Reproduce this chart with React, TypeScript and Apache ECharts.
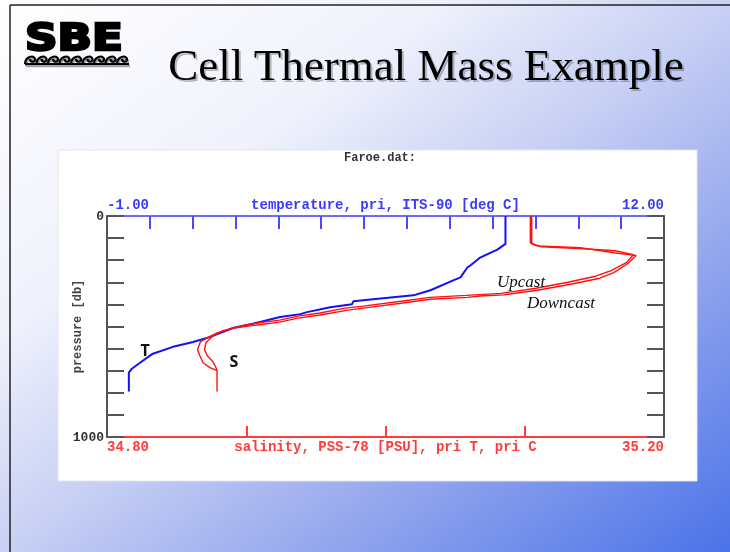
import React, { useEffect, useRef } from "react";
import * as echarts from "echarts";

// Temperature profile (deg C vs pressure db)
const tempT = [8.30, 8.30, 8.11, 7.71, 7.48, 7.41, 7.25, 7.08, 6.55, 6.15, 5.68, 5.21, 4.75, 4.72, 4.21, 3.67, 3.51, 3.04, 2.57, 1.94, 1.41, 1.01, 0.54, 0.07, -0.23, -0.42, -0.49, -0.49];
const tempP = [0, 126, 152, 188, 224, 233, 278, 291, 336, 359, 368, 377, 386, 399, 413, 435, 444, 457, 480, 507, 547, 570, 592, 623, 664, 691, 709, 794];

// Salinity downcast (PSU vs pressure db)
const sDownS = [35.104, 35.104, 35.109, 35.140, 35.164, 35.180, 35.174, 35.164, 35.153, 35.133, 35.109, 35.085, 35.068, 35.059, 35.032, 35.011, 34.984, 34.973, 34.953, 34.937, 34.924, 34.908, 34.891, 34.879, 34.872, 34.867, 34.865, 34.867, 34.869, 34.874, 34.879, 34.879];
const sDownP = [0, 121, 135, 143, 166, 179, 215, 256, 283, 309, 336, 357, 362, 368, 377, 395, 417, 426, 448, 462, 480, 493, 507, 529, 552, 570, 605, 637, 664, 686, 700, 794];

// Salinity upcast
const sUpS = [35.105, 35.105, 35.112, 35.142, 35.165, 35.178, 35.173, 35.162, 35.150, 35.131, 35.108, 35.083, 35.058, 35.032, 35.011, 34.984, 34.971, 34.953, 34.937, 34.924, 34.908, 34.896, 34.883, 34.876, 34.871, 34.870, 34.872, 34.876, 34.878, 34.879];
const sUpP = [0, 126, 139, 148, 157, 175, 211, 247, 274, 300, 327, 350, 359, 368, 386, 408, 417, 439, 453, 471, 484, 498, 520, 543, 574, 605, 632, 659, 682, 700];

const tempRange = [-1, 12];
const salRange = [34.8, 35.2];
const presRange = [0, 1000];

const zip = (xs: number[], ys: number[]) => xs.map((x, i) => [x, ys[i]]);

const mono = "'Liberation Mono', 'Courier New', monospace";

// wave line for the logo
let waveD = "M0 10 L104 10 ";
for (let i = 0; i < 9; i++) {
  const x = i * 11.5;
  waveD += `M${x} 10 C${x} 3 ${x + 9} 0 ${x + 10} 5 C${x + 10} 9 ${x + 5} 8 ${x + 5} 5 `;
}
echarts.graphic.registerShape("sbewave", echarts.graphic.extendPath(waveD, {}));

const txt = (text: string, x: number, y: number, family: string, size: number, weight: string, style: string, align: string, fill: string) => ({
  type: "text",
  z: 10,
  x,
  y,
  style: {
    text,
    fill,
    fontFamily: family,
    fontSize: size,
    fontWeight: weight,
    fontStyle: style,
    textAlign: align,
    textVerticalAlign: "middle",
    align,
    verticalAlign: "middle",
  },
});

export default function App() {
  const ref = useRef<HTMLDivElement>(null);
  useEffect(() => {
    if (!ref.current) return;
    const chart = echarts.init(ref.current, null, { renderer: "svg" });
    const near = (a: number, b: number) => Math.abs(a - b) < 1e-6;
    chart.setOption({
      animation: false,
      graphic: [
        {
          type: "rect",
          z: -20,
          shape: { x: 0, y: 0, width: 730, height: 552 },
          style: {
            fill: new echarts.graphic.LinearGradient(0, 0, 1, 1, [
              { offset: 0, color: "#ffffff" },
              { offset: 0.3, color: "#f0f2fc" },
              { offset: 0.5, color: "#c8d0f4" },
              { offset: 0.7, color: "#98aaee" },
              { offset: 1, color: "#4a72e8" },
            ]),
          },
        },
        { type: "line", z: -10, shape: { x1: 10, y1: 5, x2: 730, y2: 5 }, style: { stroke: "#222", lineWidth: 1.5 } },
        { type: "line", z: -10, shape: { x1: 10, y1: 5, x2: 10, y2: 552 }, style: { stroke: "#222", lineWidth: 1.5 } },
        {
          type: "rect",
          z: -15,
          shape: { x: 58, y: 150, width: 639, height: 331 },
          style: { fill: "#ffffff", stroke: "#e4e6ee", lineWidth: 1 },
        },
        {
          type: "text",
          z: 10,
          x: 25,
          y: 37,
          scaleX: 1.22,
          style: {
            text: "SBE",
            fill: "#000",
            stroke: "#000",
            lineWidth: 2.5,
            fontFamily: "'DejaVu Sans', 'Liberation Sans', sans-serif",
            fontWeight: 900,
            fontSize: 37,
            textAlign: "left",
            textVerticalAlign: "middle",
            align: "left",
            verticalAlign: "middle",
          },
        },
        {
          type: "sbewave",
          z: 10,
          x: 26,
          y: 56,
          style: { stroke: "rgba(0,0,0,0.35)", lineWidth: 2.5, fill: "none" },
        },
        {
          type: "sbewave",
          z: 11,
          x: 25,
          y: 54,
          style: { stroke: "#000", lineWidth: 2.2, fill: "none" },
        },
        {
          type: "text",
          z: 10,
          x: 426,
          y: 65,
          style: {
            text: "Cell Thermal Mass Example",
            fill: "#000",
            fontFamily: "'Liberation Serif', 'Times New Roman', serif",
            fontSize: 45,
            textAlign: "center",
            textVerticalAlign: "middle",
            align: "center",
            verticalAlign: "middle",
            textShadowColor: "rgba(0,0,0,0.25)",
            textShadowOffsetX: 2,
            textShadowOffsetY: 2,
            textShadowBlur: 1,
          },
        },
        txt("Faroe.dat:", 380, 158, mono, 12, "bold", "normal", "center", "#333"),
        txt("T", 145, 350, "'Open Sans', 'Liberation Sans', sans-serif", 16, "bold", "normal", "center", "#111"),
        txt("S", 234, 361, "'Open Sans', 'Liberation Sans', sans-serif", 16, "bold", "normal", "center", "#111"),
        txt("Upcast", 497, 281, "'Liberation Serif', serif", 17, "normal", "italic", "left", "#111"),
        txt("Downcast", 527, 302, "'Liberation Serif', serif", 17, "normal", "italic", "left", "#111"),
      ],
      grid: { left: 107, top: 216, right: 66, bottom: 115, containLabel: false },
      xAxis: [
        {
          type: "value",
          position: "top",
          min: tempRange[0],
          max: tempRange[1],
          interval: 1,
          z: 3,
          splitLine: { show: false },
          axisLine: { show: true, onZero: false, lineStyle: { color: "#6b6bff", width: 2 } },
          axisTick: { show: true, inside: true, length: 13, lineStyle: { color: "#4a4aff", width: 2 } },
          axisLabel: {
            show: true,
            showMinLabel: true,
            showMaxLabel: true,
            margin: 4,
            alignMinLabel: "left",
            alignMaxLabel: "right",
            color: "#3a3aff",
            fontFamily: mono,
            fontWeight: "bold",
            fontSize: 14,
            formatter: (v: number) => (near(v, tempRange[0]) || near(v, tempRange[1]) ? v.toFixed(2) : ""),
          },
          name: "temperature, pri, ITS-90 [deg C]",
          nameLocation: "middle",
          nameGap: 4,
          nameMoveOverlap: false,
          nameTextStyle: { color: "#3a3aff", fontFamily: mono, fontWeight: "bold", fontSize: 14 },
        },
        {
          type: "value",
          position: "bottom",
          min: salRange[0],
          max: salRange[1],
          interval: 0.1,
          z: 3,
          splitLine: { show: false },
          axisLine: { show: true, onZero: false, lineStyle: { color: "#ff3b3b", width: 2 } },
          axisTick: { show: true, inside: true, length: 11, lineStyle: { color: "#ff3b3b", width: 2 } },
          axisLabel: {
            show: true,
            showMinLabel: true,
            showMaxLabel: true,
            margin: 3,
            alignMinLabel: "left",
            alignMaxLabel: "right",
            color: "#ff3b3b",
            fontFamily: mono,
            fontWeight: "bold",
            fontSize: 14,
            formatter: (v: number) => (near(v, salRange[0]) || near(v, salRange[1]) ? v.toFixed(2) : ""),
          },
          name: "salinity, PSS-78 [PSU], pri T, pri C",
          nameLocation: "middle",
          nameGap: 3,
          nameMoveOverlap: false,
          nameTextStyle: { color: "#ff3b3b", fontFamily: mono, fontWeight: "bold", fontSize: 14 },
        },
      ],
      yAxis: [
        {
          type: "value",
          inverse: true,
          position: "left",
          min: presRange[0],
          max: presRange[1],
          interval: 100,
          z: 4,
          splitLine: { show: false },
          axisLine: { show: true, onZero: false, lineStyle: { color: "#555", width: 2 } },
          axisTick: { show: true, inside: true, length: 17, lineStyle: { color: "#555", width: 2 } },
          axisLabel: {
            show: true,
            margin: 3,
            color: "#333",
            fontFamily: mono,
            fontWeight: "bold",
            fontSize: 13,
            formatter: (v: number) => (v === presRange[0] || v === presRange[1] ? String(v) : ""),
          },
          name: "pressure [db]",
          nameLocation: "middle",
          nameGap: 23,
          nameRotate: 90,
          nameMoveOverlap: false,
          nameTextStyle: { color: "#444", fontFamily: mono, fontWeight: "bold", fontSize: 12 },
        },
        {
          type: "value",
          inverse: true,
          position: "right",
          min: presRange[0],
          max: presRange[1],
          interval: 100,
          z: 4,
          splitLine: { show: false },
          axisLine: { show: true, onZero: false, lineStyle: { color: "#555", width: 2 } },
          axisTick: { show: true, inside: true, length: 17, lineStyle: { color: "#555", width: 2 } },
          axisLabel: { show: false },
        },
      ],
      series: [
        {
          name: "T",
          type: "line",
          xAxisIndex: 0,
          yAxisIndex: 0,
          data: zip(tempT, tempP),
          showSymbol: false,
          symbol: "none",
          z: 5,
          lineStyle: { color: "#1010ff", width: 2 },
          itemStyle: { color: "#1010ff" },
        },
        {
          name: "S downcast",
          type: "line",
          xAxisIndex: 1,
          yAxisIndex: 0,
          data: zip(sDownS, sDownP),
          showSymbol: false,
          symbol: "none",
          z: 6,
          lineStyle: { color: "#ff1010", width: 1.4 },
          itemStyle: { color: "#ff1010" },
        },
        {
          name: "S upcast",
          type: "line",
          xAxisIndex: 1,
          yAxisIndex: 0,
          data: zip(sUpS, sUpP),
          showSymbol: false,
          symbol: "none",
          z: 6,
          lineStyle: { color: "#ff1010", width: 1.4 },
          itemStyle: { color: "#ff1010" },
        },
      ],
    });
    return () => chart.dispose();
  }, []);
  return (
    <div
      ref={ref}
      style={{ position: "fixed", left: 0, top: 0, width: 730, height: 552 }}
    />
  );
}
